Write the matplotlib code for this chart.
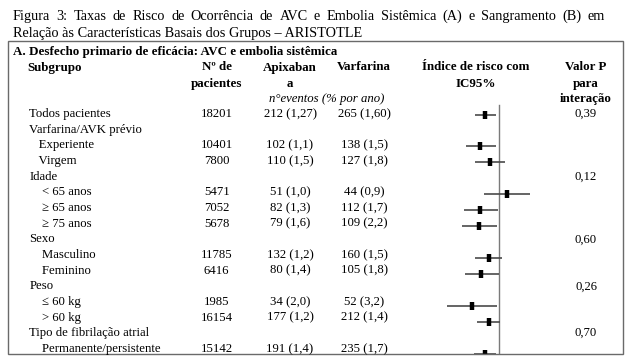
import numpy as np
import matplotlib
matplotlib.use("Agg")
import matplotlib.pyplot as plt
from matplotlib.patches import Rectangle

plt.rcParams['font.family'] = ['Liberation Serif', 'DejaVu Serif']

# table data
subgroups = ["Todos pacientes", "Varfarina/AVK prévio", "   Experiente", "   Virgem",
             "Idade", "    < 65 anos", "    \u2265 65 anos", "    \u2265 75 anos",
             "Sexo", "    Masculino", "    Feminino",
             "Peso", "    \u2264 60 kg", "    > 60 kg",
             "Tipo de fibrilação atrial", "    Permanente/persistente"]
n_patients = ["18201", "", "10401", "7800", "", "5471", "7052", "5678",
              "", "11785", "6416", "", "1985", "16154", "", "15142"]
apixaban = ["212 (1,27)", "", "102 (1,1)", "110 (1,5)", "", "51 (1,0)", "82 (1,3)", "79 (1,6)",
            "", "132 (1,2)", "80 (1,4)", "", "34 (2,0)", "177 (1,2)", "", "191 (1,4)"]
warfarin = ["265 (1,60)", "", "138 (1,5)", "127 (1,8)", "", "44 (0,9)", "112 (1,7)", "109 (2,2)",
            "", "160 (1,5)", "105 (1,8)", "", "52 (3,2)", "212 (1,4)", "", "235 (1,7)"]
p_values = ["0,39", "", "", "", "0,12", "", "", "", "0,60", "", "", "0,26", "", "", "0,70", ""]

# hazard ratios with 95% CI (nan = heading row)
nan = np.nan
hr = [0.79, nan, 0.73, 0.86, nan, 1.16, 0.72, 0.71, nan, 0.84, 0.74, nan, 0.63, 0.84, nan, 0.79]
ci_low = [0.66, nan, 0.57, 0.67, nan, 0.77, 0.55, 0.53, nan, 0.66, 0.56, nan, 0.41, 0.69, nan, 0.65]
ci_high = [0.95, nan, 0.96, 1.11, nan, 1.73, 0.98, 0.97, nan, 1.05, 1.01, nan, 0.97, 1.02, nan, 0.96]

title_lines = ["Figura 3: Taxas de Risco de Ocorrência de AVC e Embolia Sistêmica (A) e Sangramento (B) em",
               "Relação às Características Basais dos Grupos \u2013 ARISTOTLE"]

W, H = 630, 359
fig = plt.figure(figsize=(W / 100, H / 100), dpi=100)
fig.patch.set_facecolor('white')


def txt(x, y, s, **kw):
    # x, y in pixels from top-left, y = baseline
    return fig.text(x / W, 1 - y / H, s, va='baseline', **kw)


# title (first line justified)
title_fs = 10.3
renderer = fig.canvas.get_renderer()
words = title_lines[0].split(' ')
t_left, t_right = 12.7, 605
pieces = [txt(t_left, 20, w, fontsize=title_fs) for w in words]
widths = [p.get_window_extent(renderer).width for p in pieces]
gap = (t_right - t_left - sum(widths)) / (len(words) - 1)
x = t_left
for p, w in zip(pieces, widths):
    p.set_x(x / W)
    x += w + gap
txt(t_left, 37.0, title_lines[1], fontsize=title_fs)

# frame
box_l, box_t, box_r, box_b = 7.5, 41, 622.7, 353.6
fig.patches.append(Rectangle((box_l / W, 1 - box_b / H), (box_r - box_l) / W, (box_b - box_t) / H,
                             transform=fig.transFigure, fill=False, edgecolor='#6a6a6a', lw=1.0))

fs = 9.2
bfs = 9.4
txt(12.7, 55, "A. Desfecho primario de eficácia: AVC e embolia sistêmica", fontsize=bfs, fontweight='bold')

# column headers
h1, h2, h3 = 70.5, 86.7, 102
txt(27, h1, "Subgrupo", fontsize=bfs, fontweight='bold')
for x, lines in [(216.7, ["Nº de", "pacientes"]), (290, ["Apixaban", "a"]), (364, ["Varfarina"]),
                 (475.5, ["Índice de risco com", "IC95%"]), (585.5, ["Valor P", "para", "interação"])]:
    for yy, s in zip([h1, h2, h3], lines):
        txt(x, yy, s, fontsize=bfs, fontweight='bold', ha='center')
txt(327, h3, "n°eventos (% por ano)", fontsize=fs, style='italic', ha='center')

# rows
for i in range(len(subgroups)):
    y = 117.2 + i * 15.64
    txt(29.3, y, subgroups[i], fontsize=fs)
    txt(216.7, y, n_patients[i], fontsize=fs, ha='center')
    txt(290, y, apixaban[i], fontsize=fs, ha='center')
    txt(364.5, y, warfarin[i], fontsize=fs, ha='center')
    txt(586, y, p_values[i], fontsize=fs, ha='center')

# forest plot
ax_l, ax_r = 420, 560
ax = fig.add_axes([ax_l / W, 1 - box_b / H, (ax_r - ax_l) / W, (box_b - box_t) / H])
ax.set_xscale('log')
ref_x, px_per_ln = 498.7, 58.0
ax.set_xlim(np.exp((ax_l - ref_x) / px_per_ln), np.exp((ax_r - ref_x) / px_per_ln))
row0, row_step = 114.5, 15.95
ax.set_ylim((box_b - row0) / row_step, (box_t - row0) / row_step)
ax.axis('off')
rows = np.arange(len(subgroups))
ax.plot([1, 1], [(105 - row0) / row_step, len(subgroups)], color='#7a7a7a', lw=1.0)
ax.hlines(rows, ci_low, ci_high, color='#4a4a4a', lw=1.2)
ax.plot(hr, rows, linestyle='none', marker='|', markersize=5.2, markeredgewidth=3.2, color='black')

fig.savefig('out.png', dpi=100, facecolor='white')
